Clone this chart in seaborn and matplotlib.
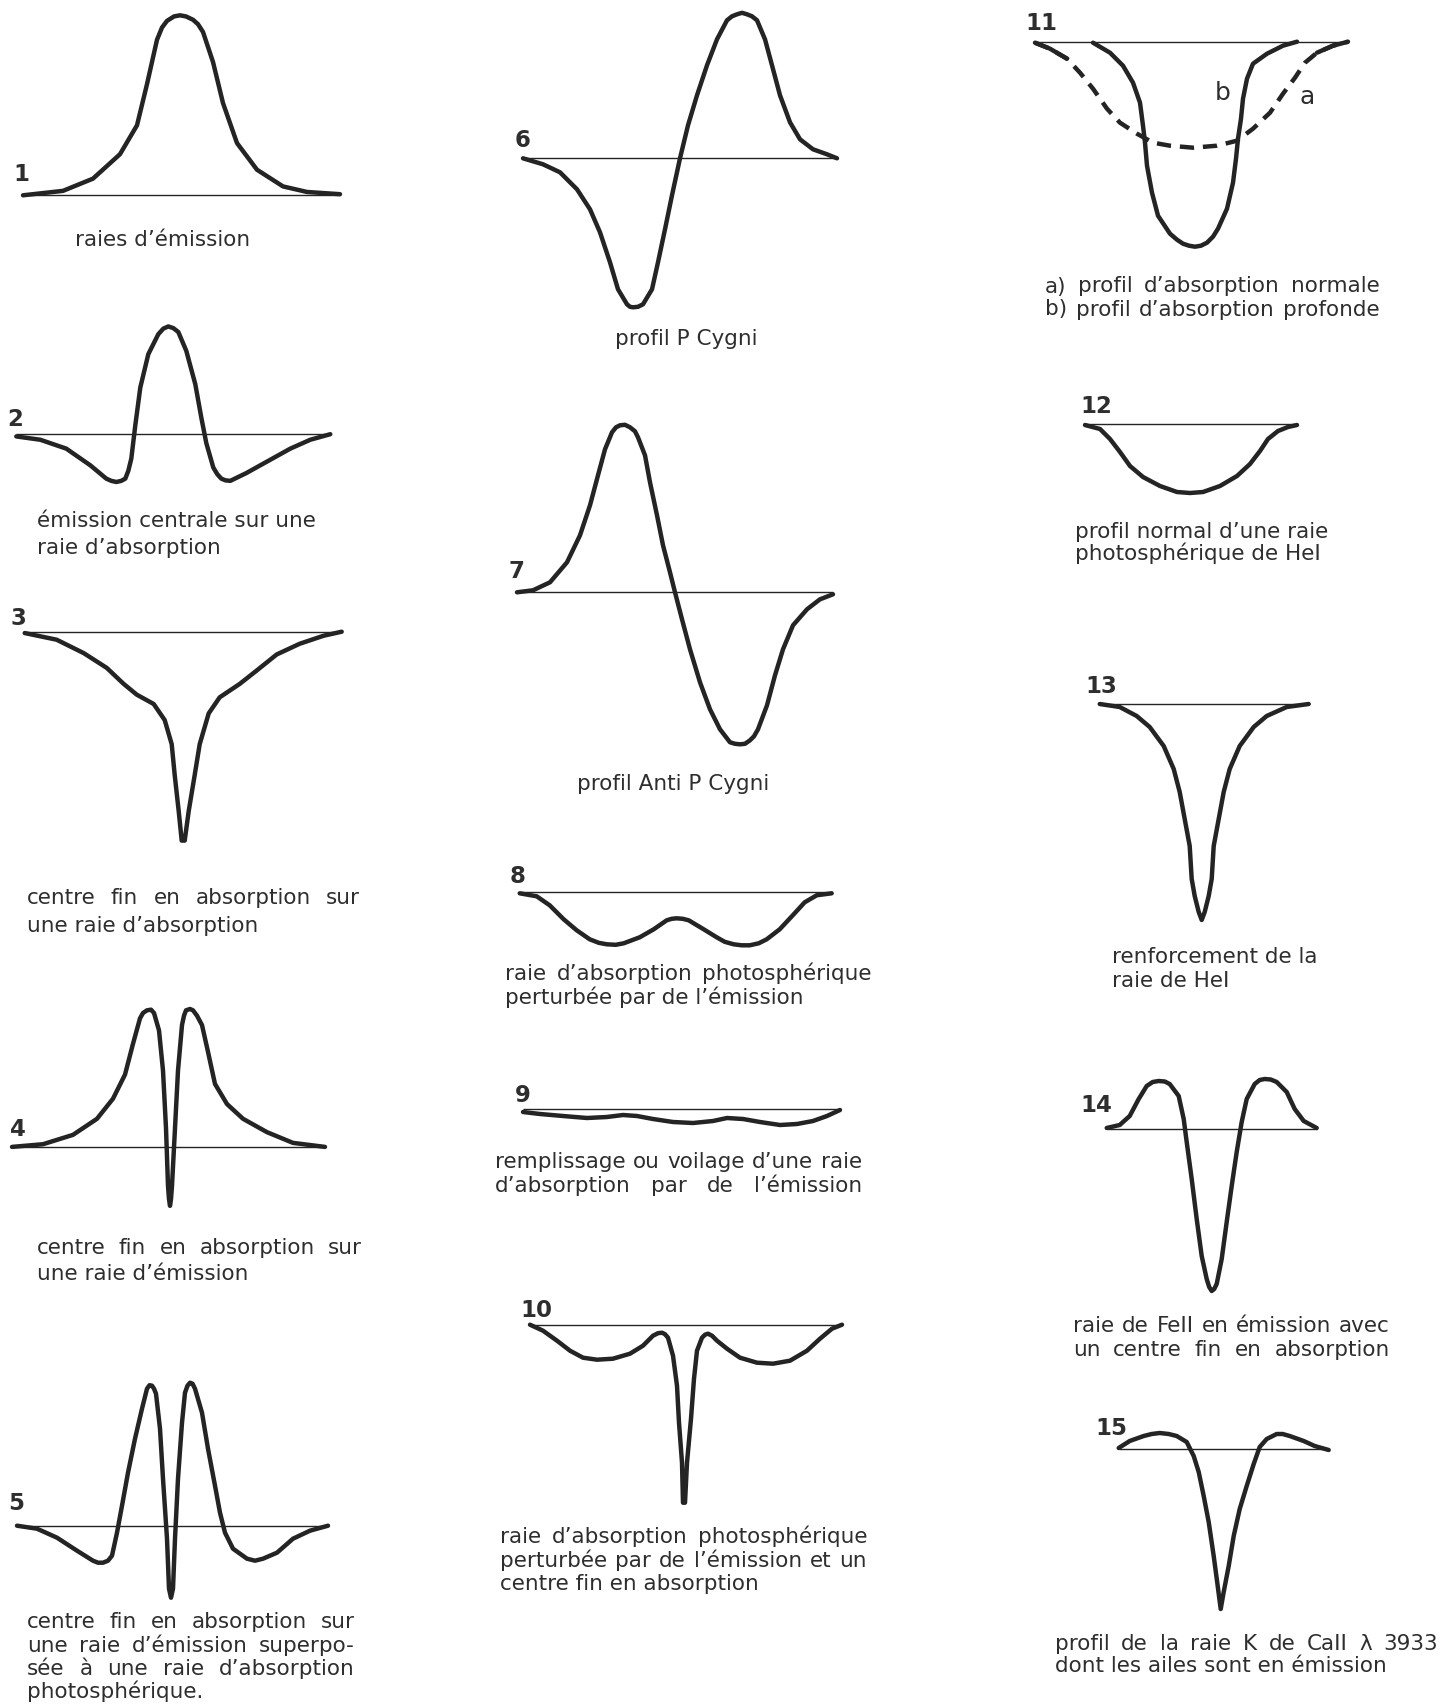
import matplotlib
matplotlib.use("Agg")
import matplotlib.pyplot as plt
import pandas as pd
import seaborn as sns

# === profils de raies (dl = decalage en longueur d'onde, flux = ecart au continu) ===
p1_x = [-157, -117, -87, -60, -43, -33, -23, -18, -13, -6, 0, 6, 13, 18, 23, 33, 43, 57, 77, 103,
        127, 160]
p1_y = [0, 4, 15, 37, 63, 100, 140, 151, 157, 161, 162, 161, 158, 154, 147, 120, 83, 47, 23, 8,
        3, 1]

p2_x = [-152, -128, -102, -78, -62, -57, -52, -47, -43, -40, -37, -33, -28, -20, -10, -5, 0, 5,
        10, 18, 27, 33, 38, 45, 49, 53, 57, 62, 78, 98, 122, 142, 162]
p2_y = [-2, -5, -13, -28, -40, -42, -43, -42, -40, -33, -22, 8, 42, 72, 90, 95, 97, 95.5,
        92, 75, 45, 15, -8, -30, -36, -40, -41.5, -42, -35, -25, -13, -5, 0]

p3_x = [-158, -126, -99, -76, -59, -46, -29, -18, -11, -8, -4, -1, 2, 6, 12, 17, 26, 37,
        57, 74, 94, 117, 141, 159]
p3_y = [-1, -6, -16, -27, -39, -47, -54, -66, -84, -107, -134, -156, -156, -134, -107, -84, -61, -49,
        -39, -29, -17, -9, -3, 0]

p4_x = [-158, -127, -97, -73, -57, -45, -37, -30, -27, -23, -19, -16, -11, -7, -4, -2, -1, 0,
        1, 2, 5, 8, 12, 14, 16, 20, 23, 27, 32, 38, 45, 57, 73, 97, 123, 155]
p4_y = [0, 2, 9, 21, 36, 54, 77, 96, 100, 102, 102.5, 100, 87, 57, 14, -29, -39, -44,
        -39, -29, 14, 57, 91, 98, 102, 103, 102, 98, 91, 71, 47, 32, 21, 11, 3, 0]

p5_x = [-153, -133, -113, -93, -77, -72, -67, -62, -58, -53, -48, -42, -35, -28, -23, -20.5,
        -18, -16, -14, -10, -7, -3, -1, 1, 3, 5, 8, 12, 15, 17.5, 20, 22.5, 25, 32, 38, 45,
        50, 55, 63, 77, 85, 93, 107, 123, 140, 158]
p5_y = [0, -3, -12, -25, -35, -37, -37, -35, -30, -7, 20, 53, 87, 117, 137, 140.5,
        140, 137, 132, 97, 47, -13, -63, -72, -63, -13, 47, 103, 133, 140, 143, 142, 137, 113, 77, 40,
        13, -7, -23, -33, -35, -33, -27, -13, -5, 0]

p6_x = [-157, -137, -120, -103, -90, -80, -70, -62, -53, -50, -47, -42, -37, -28, -22, -15, -8, 0,
        8, 17, 27, 37, 47, 52, 57, 62, 67, 72, 77, 85, 92, 100, 110, 120, 133, 147, 157]
p6_y = [0, -6, -14, -31, -51, -74, -104, -131, -146, -148.5, -149, -148.5, -146, -131, -104, -71, -37, 0,
        33, 63, 93, 119, 138, 142, 144, 145.5, 144, 142, 138, 119, 93, 63, 36, 19, 9, 4, 0]

p7_x = [-158, -142, -125, -108, -95, -85, -77, -70, -63, -59, -55, -50, -45, -40, -37, -30, -25,
        -18, -12, -5, 0, 7, 15, 25, 35, 45, 55, 60, 65, 70, 75, 79, 83, 92, 100, 108, 118, 132,
        145, 158]
p7_y = [0, 2, 10, 30, 57, 87, 117, 143, 160, 165, 167, 167.5, 165, 161, 155, 137, 110,
        77, 47, 20, 0, -27, -57, -90, -117, -137, -150, -151.5, -152, -151.5, -148, -144, -137, -113,
        -83, -57, -33, -17, -7, -2]

p8_x = [-157, -140, -127, -113, -100, -87, -78, -70, -61, -53, -37, -23, -10, -5, 0, 6, 12, 27,
        40, 48, 57, 65, 73, 82, 90, 103, 117, 128, 140, 155]
p8_y = [-1, -4, -13, -27, -38, -47, -50.5, -52, -52.5, -51, -45, -37, -28, -26.5, -26, -26.5, -28, -37,
        -45, -49.5, -52, -53, -53, -51, -47, -37, -22, -10, -3, -1]

p9_x = [-157, -140, -117, -93, -73, -57, -43, -27, -7, 13, 33, 47, 63, 80, 100, 117, 133, 147, 160]
p9_y = [-3, -5, -7, -9, -8, -6, -7, -10, -13, -14, -12, -9, -10, -13, -16, -15, -12, -7, -1]

p10_x = [-154, -141, -127, -114, -101, -87, -71, -54, -41, -31, -26, -22, -19, -16, -11, -7, -5,
         -2, -1, 1, 3, 7, 10, 13, 18, 21, 24, 28, 33, 43, 56, 73, 89, 106, 123, 136, 148, 158]
p10_y = [0, -6, -16, -26, -33, -35, -34, -29, -21, -11, -8.5, -8, -9.5, -13, -31, -61, -98,
         -138, -178, -178, -138, -94, -54, -26, -13, -10, -9, -11, -16, -24, -33, -38, -39, -36,
         -26, -14, -4, 0]

# 11 a) profil normal (tirets), b) profil profond
p11a_x = [-160, -145, -128, -115, -102, -88, -75, -58, -42, -25, -2, 22, 42, 58, 75, 88, 100,
          110, 122, 138, 153]
p11a_y = [-1, -7, -17, -31, -47, -67, -81, -92, -101, -104, -106, -104, -99, -87, -71, -52, -36,
          -21, -11, -4, 0]
p11b_x = [-102, -85, -72, -62, -55, -52, -50, -48, -43, -37, -25, -18, -12, -6, 0, 6, 12, 18,
          23, 32, 38, 41, 43, 46, 48, 52, 58, 72, 88, 102]
p11b_y = [-1, -11, -24, -41, -61, -84, -101, -124, -151, -174, -192, -198, -202, -204, -205, -204,
          -201, -195, -187, -167, -141, -117, -97, -77, -57, -37, -22, -12, -4, 0]

p12_x = [-105, -90, -80, -70, -60, -47, -30, -13, 0, 13, 30, 47, 60, 70, 78, 88, 98, 107]
p12_y = [-1, -5, -15, -28, -42, -53, -62, -68, -69, -68, -62, -52, -40, -27, -15, -7, -3, -1]

p13_x = [-102, -82, -65, -52, -38, -28, -22, -17, -12, -10, -7, -3, 0, 3, 7, 10, 12, 17, 22,
         28, 38, 52, 65, 85, 107]
p13_y = [0, -3, -12, -23, -42, -65, -88, -115, -142, -175, -192, -208, -216, -208, -192, -175,
         -142, -115, -88, -65, -42, -23, -12, -3, 0]

p14_x = [-105, -92, -82, -73, -65, -59, -53, -47, -42, -33, -28, -25, -20, -15, -10, -5, -2.5, 0,
         2.5, 5, 10, 15, 20, 25, 30, 35, 43, 48, 53, 59, 65, 75, 83, 92, 105]
p14_y = [1, 4, 13, 30, 43, 47, 48, 47.5, 45, 33, 10, -13, -50, -90, -127, -150, -158, -162,
         -160, -155, -130, -93, -57, -23, 7, 30, 45, 49, 50, 49.5, 47, 37, 20, 8, 1]

p15_x = [-102, -91, -77, -69, -61, -52, -44, -34, -27, -22, -17, -12, -7, -3, 0, 3, 8, 13, 19,
         26, 33, 39, 46, 56, 62, 69, 83, 94, 108]
p15_y = [1, 8, 13, 15, 16, 15, 13, 7, -7, -23, -47, -73, -107, -137, -160, -143, -117, -87, -60,
         -37, -15, 2, 10, 15, 15, 13, 8, 3, -1]

captions = [
    "raies d’émission",
    "émission centrale sur une", "raie d’absorption",
    "centre fin en absorption sur", "une raie d’absorption",
    "centre fin en absorption sur", "une raie d’émission",
    "centre fin en absorption sur", "une raie d’émission superpo-",
    "sée à une raie d’absorption", "photosphérique.",
    "profil P Cygni",
    "profil Anti P Cygni",
    "raie d’absorption photosphérique", "perturbée par de l’émission",
    "remplissage ou voilage d’une raie", "d’absorption par de l’émission",
    "raie d’absorption photosphérique", "perturbée par de l’émission et un",
    "centre fin en absorption",
    "a) profil d’absorption normale", "b) profil d’absorption profonde",
    "profil normal d’une raie", "photosphérique de HeI",
    "renforcement de la", "raie de HeI",
    "raie de FeII en émission avec", "un centre fin en absorption",
    "profil de la raie K de CaII λ 3933", "dont les ailes sont en émission",
]

# === mise en page (pixels) ===
W, H = 1443, 1706
INK = "#242424"
TXT = "#2e2e2e"
FS = 15.5

# gauche, ligne (milieu des minuscules), droite si justifiee
caption_pos = [
    (75, 241, None),
    (37, 522, None), (37, 548, None),
    (27, 899, 360), (27, 926, None),
    (37, 1249, 362), (37, 1275, None),
    (27, 1623, 355), (27, 1647, 355), (27, 1670, 355), (27, 1693, None),
    (615, 340, None),
    (577, 785, None),
    (505, 975, 872), (505, 998, None),
    (495, 1163, 862), (495, 1187, 862),
    (500, 1538, 867), (500, 1562, 867), (500, 1585, None),
    (1045, 287, 1380), (1045, 310, 1380),
    (1075, 532, None), (1075, 555, None),
    (1112, 958, None), (1112, 982, None),
    (1073, 1327, 1390), (1073, 1350, 1390),
    (1055, 1645, 1438), (1055, 1667, None),
]

# numero, centre x, continu y, echelle verticale, courbes
panels = [
    (1, 180, 196.3, 1.111, [(p1_x, p1_y)]),
    (2, 168.3, 435.2, 1.111, [(p2_x, p2_y)]),
    (3, 182.7, 632.7, 1.339, [(p3_x, p3_y)]),
    (4, 170, 1147.9, 1.339, [(p4_x, p4_y)]),
    (5, 170, 1526.7, 1.0, [(p5_x, p5_y)]),
    (6, 680, 159.3, 1.0, [(p6_x, p6_y)]),
    (7, 675, 593.3, 1.0, [(p7_x, p7_y)]),
    (8, 676.7, 893.3, 1.0, [(p8_x, p8_y)]),
    (9, 680, 1110, 1.0, [(p9_x, p9_y)]),
    (10, 684, 1325.7, 1.0, [(p10_x, p10_y)]),
    (11, 1195, 42.7, 1.0, [(p11b_x, p11b_y)]),
    (12, 1190, 425, 1.0, [(p12_x, p12_y)]),
    (13, 1201.7, 705, 1.0, [(p13_x, p13_y)]),
    (14, 1211.7, 1130, 1.0, [(p14_x, p14_y)]),
    (15, 1220.7, 1450, 1.0, [(p15_x, p15_y)]),
]

# position des numeros (gauche, bas)
number_pos = [(13, 181), (7, 426), (10, 625), (10, 1136), (8, 1510),
              (515, 147), (508, 578), (510, 883), (515, 1102), (520, 1317),
              (1025, 30), (1080, 413), (1085, 693), (1080, 1112), (1095, 1435)]

sns.set_theme(style="white")
plt.rcParams["font.family"] = ["DejaVu Sans"]

fig = plt.figure(figsize=(W / 100, H / 100), dpi=100)
fig.patch.set_facecolor("white")


def trace(ax, xs, ys, **kw):
    df = pd.DataFrame({"dl": xs, "flux": ys})
    sns.lineplot(data=df, x="dl", y="flux", ax=ax, sort=False, estimator=None,
                 color=INK, lw=3.2, solid_joinstyle="round", solid_capstyle="round", **kw)


axes = {}
for num, cx, cy, sy, curves in panels:
    ax = fig.add_axes([(cx - 230) / W, 1 - (cy + 260) / H, 460 / W, 520 / H])
    xmin, xmax = 0, 0
    for xs, ys in curves:
        trace(ax, xs, ys)
        xmin, xmax = min(xmin, min(xs)), max(xmax, max(xs))
    if num == 11:
        # profil normal en tirets, bouts pleins
        trace(ax, p11a_x, p11a_y, linestyle=(0, (3.2, 2.0)), dash_capstyle="butt")
        trace(ax, p11a_x[:3], p11a_y[:3])
        trace(ax, p11a_x[-3:], p11a_y[-3:])
        xmin, xmax = min(xmin, min(p11a_x)), max(xmax, max(p11a_x))
    ax.hlines(0, xmin, xmax, color=INK, lw=1.0)
    ax.set_xlim(-230, 230)
    ax.set_ylim(-260 / sy, 260 / sy)
    ax.set_axis_off()
    ax.patch.set_alpha(0)
    axes[num] = ax

# lettres a et b du profil 11
fig.text(1223 / W, 1 - 93 / H, "b", fontsize=18, color=TXT, ha="center", va="center")
fig.text(1307 / W, 1 - 97 / H, "a", fontsize=18, color=TXT, ha="center", va="center")

for (num, *_), (nx, ny) in zip(panels, number_pos):
    fig.text(nx / W, 1 - ny / H, str(num), fontsize=16.5, fontweight="bold",
             color=TXT, ha="left", va="baseline")

renderer = fig.canvas.get_renderer()


def put_line(txt, x0, ymid, x1):
    y = 1 - (ymid + 5.5) / H
    if x1 is None:
        fig.text(x0 / W, y, txt, fontsize=FS, color=TXT, ha="left", va="baseline")
        return
    words = txt.split()
    widths = []
    for w in words:
        t = fig.text(0, 0, w, fontsize=FS)
        widths.append(t.get_window_extent(renderer).width)
        t.remove()
    gap = (x1 - x0 - sum(widths)) / (len(words) - 1)
    x = x0
    for w, wd in zip(words, widths):
        fig.text(x / W, y, w, fontsize=FS, color=TXT, ha="left", va="baseline")
        x += wd + gap


for txt, (x0, ym, x1) in zip(captions, caption_pos):
    put_line(txt, x0, ym, x1)

fig.savefig("out.png", dpi=100, facecolor="white")
